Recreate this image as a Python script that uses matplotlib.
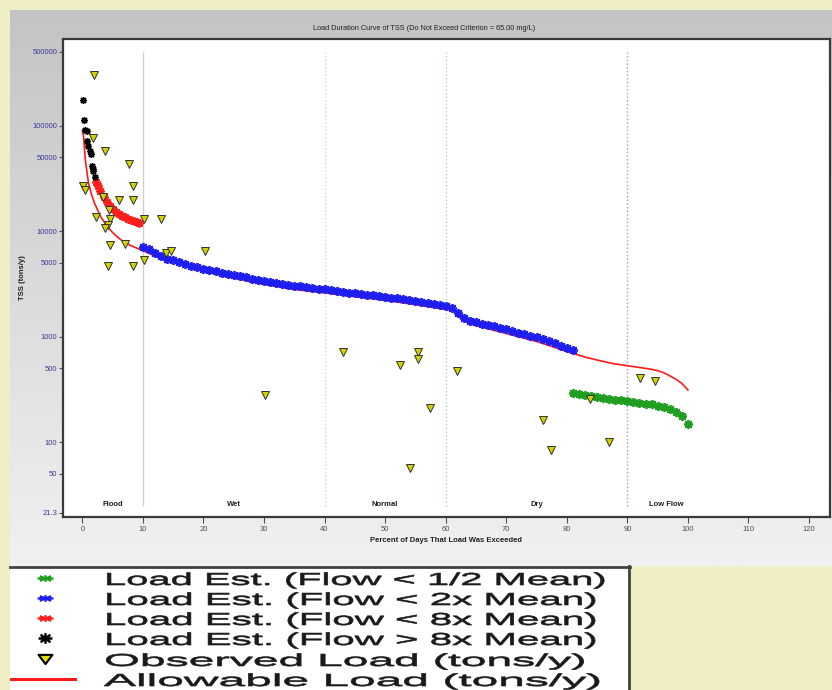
import numpy as np
import matplotlib
matplotlib.use("Agg")
import matplotlib.pyplot as plt
from matplotlib.path import Path
from matplotlib.patheffects import AbstractPathEffect
from matplotlib.transforms import Affine2D
from matplotlib.patches import Rectangle
from matplotlib.colors import LinearSegmentedColormap
from matplotlib.ticker import NullLocator

# ---------------------------------------------------------------- data
title = "Load Duration Curve of TSS (Do Not Exceed Criterion = 65.00 mg/L)"
x_label = "Percent of Days That Load Was Exceeded"
y_label = "TSS (tons/y)"

x_ticks = [0, 10, 20, 30, 40, 50, 60, 70, 80, 90, 100, 110, 120]
y_ticks = [21.3, 50, 100, 500, 1000, 5000, 10000, 50000, 100000, 500000]
y_tick_labels = ["21.3", "50", "100", "500", "1000", "5000", "10000",
                 "50000", "100000", "500000"]

zone_names = ["Flood", "Wet", "Normal", "Dry", "Low Flow"]
zone_label_x = [5, 25, 50, 75, 96.5]
zone_bounds = [10, 40, 60, 90]

# allowable load (tons/y)
allow_x = [0, 0.2, 0.5, 1.0, 1.5, 2.0, 3.0, 4.0, 5.0, 6.0, 7.0, 8.0, 9.0,
           10, 12, 14, 16, 18, 20, 25, 30, 35, 40, 45, 50, 55, 60, 61,
           61.5, 62, 63, 64, 66, 70, 75, 80, 81, 83, 85, 88, 90, 92, 94,
           95, 96, 97, 98, 99, 100]
allow_y = [90000, 80000, 47000, 29000, 22500, 18500, 13800, 11300, 9700,
           8600, 7800, 7300, 6900, 6550, 5800, 5250, 4850, 4480, 4170,
           3580, 3140, 2800, 2600, 2400, 2210, 2010, 1810, 1790, 1720,
           1560, 1430, 1330, 1230, 1070, 900, 725, 695, 640, 600, 550,
           530, 510, 490, 475, 455, 425, 395, 360, 312]

# load estimate, flow > 8x mean
high_x = [0.17, 0.28, 0.45, 0.72, 0.83, 0.99, 1.2, 1.39, 1.55, 1.7, 1.82, 2.1]
high_y = [174000, 112000, 91700, 88300, 71000, 63700, 58000, 54000, 41100,
          38500, 36900, 32700]

# load estimate, flow < 8x mean
moist_x = [2.3, 2.6, 3.0, 3.5, 4.0, 4.5, 5.0, 5.5, 6.0, 6.5, 7.0, 7.5, 8.0,
           8.5, 9.0, 9.3]
moist_y = [29000, 26500, 24000, 21300, 19000, 17400, 16200, 15200, 14500,
           13900, 13500, 13100, 12800, 12400, 12100, 11900]

# load estimate, flow < 2x mean
mid_x = list(range(10, 82))
mid_y = [7100, 6700, 6200, 5800, 5500, 5300, 5100, 4900, 4700, 4550,
         4400, 4250, 4150, 4050, 3950, 3850, 3750, 3650, 3550, 3450,
         3380, 3300, 3230, 3170, 3100, 3040, 2990, 2940, 2900, 2850,
         2800, 2760, 2710, 2660, 2620, 2580, 2540, 2500, 2460, 2420,
         2380, 2340, 2300, 2260, 2210, 2170, 2130, 2090, 2040, 1990,
         1950, 1850, 1680, 1500, 1420, 1370, 1330, 1290, 1250, 1210,
         1170, 1130, 1090, 1060, 1020, 990, 950, 910, 870, 820,
         780, 740]

# load estimate, flow < 1/2 mean
low_x = list(range(81, 101))
low_y = [290, 285, 278, 272, 266, 262, 257, 253, 249, 245,
         240, 236, 232, 228, 222, 215, 205, 192, 175, 150]

# observed loads (tons/y)
obs_x = [1.98, 1.82, 3.75, 7.76, 0.17, 0.45, 8.42, 3.47, 6.06, 8.42, 4.46,
         2.21, 4.57, 4.29, 3.75, 10.24, 13.0, 4.57, 7.05, 13.8, 14.6, 20.2,
         4.19, 8.42, 10.24, 30.1, 43.0, 52.5, 55.4, 55.4, 57.4, 54.1, 61.9,
         76.1, 77.4, 83.8, 87.0, 92.1, 94.6]
obs_y = [300000, 76400, 57000, 43700, 27000, 24400, 26600, 21100, 19600,
         19900, 16000, 13650, 13060, 11540, 10720, 13130, 13130, 7330, 7570,
         6210, 6440, 6530, 4640, 4640, 5280, 282, 721, 543, 721, 620, 212,
         57.3, 476, 163, 85, 258, 101, 408, 383]

legend_labels = ["Load Est. (Flow < 1/2 Mean)",
                 "Load Est. (Flow < 2x Mean)",
                 "Load Est. (Flow < 8x Mean)",
                 "Load Est. (Flow > 8x Mean)",
                 "Observed Load (tons/y)",
                 "Allowable Load (tons/y)"]

# ---------------------------------------------------------------- helpers
W, H = 832, 690


def fx(px):
    return px / W


def fy(py):
    return 1 - py / H


class HStretch(AbstractPathEffect):
    """Widen glyphs horizontally about the text origin, with a light outline."""

    def __init__(self, sx, lw=0.45):
        super().__init__()
        self.sx = sx
        self.lw = lw

    def draw_path(self, renderer, gc, tpath, affine, rgbFace=None):
        tr = Affine2D().scale(self.sx, 1.0) + affine
        gc0 = renderer.new_gc()
        gc0.copy_properties(gc)
        gc0.set_linewidth(self.lw)
        gc0.set_foreground(rgbFace)
        renderer.draw_path(gc0, tpath, tr, rgbFace)
        gc0.restore()


def asterisk(sx=1.0, sy=1.0):
    verts, codes = [], []
    for ang in (0, 45, 90, 135):
        a = np.deg2rad(ang)
        dx, dy = np.cos(a) * sx, np.sin(a) * sy
        verts += [(-dx, -dy), (dx, dy)]
        codes += [Path.MOVETO, Path.LINETO]
    return Path(verts, codes)


wide_down_triangle = Path([(-1.5, 1), (1.5, 1), (0, -1), (-1.5, 1)],
                          [Path.MOVETO, Path.LINETO, Path.LINETO,
                           Path.CLOSEPOLY])

plt.rcParams["font.family"] = ["Liberation Sans", "DejaVu Sans"]

fig = plt.figure(figsize=(W / 100, H / 100), dpi=100, facecolor="#f0eec4")

# grey gradient panel behind the chart
pax = fig.add_axes([fx(10), fy(566), 1 - fx(10), fy(10) - fy(566)])
grad = np.linspace(0, 1, 256).reshape(-1, 1)
pax.imshow(grad, aspect="auto", origin="upper", extent=[0, 1, 0, 1],
           cmap=LinearSegmentedColormap.from_list("panel", ["#c4c4c4", "#f1f1f1"]))
pax.axis("off")

# ---------------------------------------------------------------- chart
ax = fig.add_axes([fx(63), fy(517), fx(830) - fx(63), fy(39) - fy(517)])
ax.set_facecolor("white")
ax.set_yscale("log")
ax.set_xlim(-3.19, 123.46)
ax.set_ylim(19.5, 663000)

for s in ax.spines.values():
    s.set_color("#3a3a3a")
    s.set_linewidth(1.6)

ax.set_xticks(x_ticks)
ax.set_xticklabels([str(t) for t in x_ticks])
ax.set_yticks(y_ticks)
ax.set_yticklabels(y_tick_labels)
ax.yaxis.set_minor_locator(NullLocator())
ax.tick_params(axis="y", length=3, width=0.8, color="#505050", labelsize=5.5,
               labelcolor="#3a3a96", pad=1)
ax.tick_params(axis="x", length=4, width=0.8, color="#505050", labelsize=5.5,
               labelcolor="#505050", pad=2.5)

ax.set_xlabel(x_label, fontsize=5.5, fontweight="bold", color="#202020")
ax.xaxis.set_label_coords((446 - 63) / 767, (517 - 541) / 478)
ax.xaxis.label.set_va("center")
ax.set_ylabel(y_label, fontsize=5.5, fontweight="bold", color="#202020")
ax.yaxis.set_label_coords((23 - 63) / 767, 0.5)
ax.yaxis.label.set_va("center")

fig.text(fx(424), fy(29), title, ha="center", va="center", fontsize=5.3,
         color="#202020")

# flow-zone dividers and names
div_styles = [dict(color="#cfcfcf", ls="-"), dict(color="#d4d4d4", ls=":"),
              dict(color="#a8d4cc", ls=":"), dict(color="#9a9ae0", ls=":")]
for xb, st in zip(zone_bounds, div_styles):
    ax.vlines(xb, 25, 500000, lw=1.0, zorder=1, **st)
for name, xl in zip(zone_names, zone_label_x):
    ax.text(xl, 25.6, name, ha="center", va="center", fontsize=5.5,
            fontweight="bold", color="#202020")

ast = (8, 2, 0)
h_allow, = ax.plot(allow_x, allow_y, color="#ff1a1a", lw=1.2, zorder=3)
h_low, = ax.plot(low_x, low_y, ls="none", marker=ast, ms=6.5, mew=1.3,
                 color="#1f9e1f", zorder=4)
h_mid, = ax.plot(mid_x, mid_y, ls="none", marker=ast, ms=6.5, mew=1.3,
                 color="#1e1ef0", zorder=4)
h_moist, = ax.plot(moist_x, moist_y, ls="none", marker=ast, ms=6, mew=1.3,
                   color="#ff1e1e", zorder=4)
h_high, = ax.plot(high_x, high_y, ls="none", marker=ast, ms=5, mew=1.0,
                  color="#000000", zorder=4)
h_obs, = ax.plot(obs_x, obs_y, ls="none", marker="v", ms=5.3, mfc="#d2d200",
                 mec="#303030", mew=0.7, zorder=5)

# ---------------------------------------------------------------- legend box
lax = fig.add_axes([fx(10), 0, fx(630) - fx(10), fy(566)])
lax.set_xlim(10, 630)
lax.set_ylim(690, 566)
lax.axis("off")
lax.add_patch(Rectangle((10, 566), 620, 124, facecolor="white",
                        edgecolor="none", zorder=0))
lax.plot([10, 630], [567, 567], color="#404040", lw=2, clip_on=False)
lax.plot([629, 629], [566, 690], color="#404040", lw=2, clip_on=False)

rows = [578, 598, 618, 638, 659, 679]
baselines = [585, 605, 625, 645, 666, 686]
stretch = [2.30, 2.32, 2.32, 2.32, 2.66, 2.76]

for c, yr in zip(["#1f9e1f", "#1e1ef0", "#ff1e1e"], rows[:3]):
    lax.plot([45], [yr], ls="none", marker=asterisk(2.4, 1.0), ms=11.5,
             mew=1.6, color=c)
lax.plot([45], [rows[3]], ls="none", marker=asterisk(1.3, 1.0), ms=10,
         mew=1.8, color="black")
lax.plot([45], [rows[4]], ls="none", marker=wide_down_triangle, ms=10,
         mfc="#e0e000", mec="black", mew=1.5)
lax.plot([10, 75], [rows[5], rows[5]], color="#ff1a1a", lw=2.2)

for lab, yb, sx in zip(legend_labels, baselines, stretch):
    lax.text(104, yb, lab, ha="left", va="baseline", fontsize=12.5,
             color="#1a1a1a", path_effects=[HStretch(sx)])

fig.savefig("out.png", dpi=100, facecolor=fig.get_facecolor())
